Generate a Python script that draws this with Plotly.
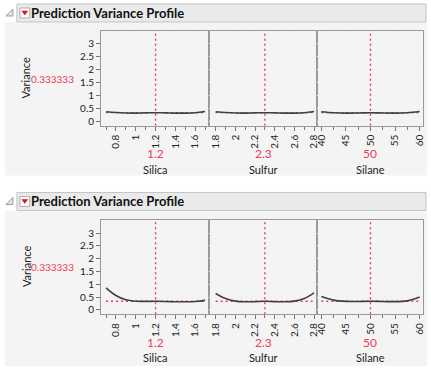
import plotly.graph_objects as go

W, H = 431, 369
FONT = "Lato"
RED = "#ec3a55"
CURVE = "#404040"

# ---------------- data ----------------
factors = ["Silica", "Sulfur", "Silane"]
current_values = [1.2, 2.3, 50]
current_labels = ["1.2", "2.3", "50"]
current_variance = 0.333333
variance_label = "0.333333"

silica_x = [0.7, 0.8, 0.9, 1.0, 1.1, 1.2, 1.3, 1.4, 1.5, 1.6, 1.7]
sulfur_x = [1.8, 1.9, 2.0, 2.1, 2.2, 2.3, 2.4, 2.5, 2.6, 2.7, 2.8]
silane_x = [40, 42.5, 45, 47.5, 50, 52.5, 55, 57.5, 60]

# top profile (design 1)
top_silica_var = [0.37, 0.34, 0.32, 0.315, 0.325, 0.333, 0.325, 0.315, 0.315, 0.33, 0.38]
top_sulfur_var = [0.37, 0.34, 0.32, 0.315, 0.325, 0.333, 0.325, 0.315, 0.315, 0.33, 0.38]
top_silane_var = [0.37, 0.33, 0.315, 0.32, 0.333, 0.32, 0.315, 0.33, 0.38]

# bottom profile (design 2)
bot_silica_var = [0.86, 0.56, 0.39, 0.335, 0.33, 0.333, 0.325, 0.315, 0.315, 0.325, 0.37]
bot_sulfur_var = [0.64, 0.44, 0.34, 0.315, 0.32, 0.333, 0.32, 0.315, 0.34, 0.44, 0.66]
bot_silane_var = [0.52, 0.38, 0.33, 0.325, 0.333, 0.325, 0.32, 0.35, 0.5]

x_ranges = [[0.65, 1.74], [1.733, 2.83], [39.13, 60.7]]
x_tick0 = [0.8, 1.8, 40]
x_dtick = [0.2, 0.2, 5]
x_minor = [0.1, 0.1, 2.5]
y_range = [-0.17, 3.5]
y_ticks = [0, 0.5, 1, 1.5, 2, 2.5, 3]

sections = [
    {"xs": [silica_x, sulfur_x, silane_x], "ys": [top_silica_var, top_sulfur_var, top_silane_var]},
    {"xs": [silica_x, sulfur_x, silane_x], "ys": [bot_silica_var, bot_sulfur_var, bot_silane_var]},
]

# ---------------- layout geometry (pixels) ----------------
panel_x = [(100, 209), (209, 318), (318, 425)]
sec_geo = [
    dict(head=(4, 22), bg=(22, 176), plot=(31, 126), val_y=154, title_y=169.5, var_y=79),
    dict(head=(193, 211), bg=(211, 367), plot=(221, 315), val_y=343, title_y=358.5, var_y=268),
]


def px(x):
    return x / W


def py(y):
    return 1 - y / H


fig = go.Figure()
shapes = []
annotations = []
layout_axes = {}
DOT = "2px,3px"

for s, (sec, geo) in enumerate(zip(sections, sec_geo)):
    # section background
    shapes.append(dict(type="rect", xref="paper", yref="paper", layer="below",
                       x0=px(3), x1=px(429), y0=py(geo["bg"][1]), y1=py(geo["bg"][0]),
                       fillcolor="#f4f4f4", line=dict(width=0)))
    # header bar
    h0, h1 = geo["head"]
    shapes.append(dict(type="rect", xref="paper", yref="paper", layer="below",
                       x0=px(15), x1=px(428), y0=py(h1), y1=py(h0),
                       fillcolor="#eaeaea", line=dict(color="#c4c4c4", width=1)))
    # disclosure triangle
    tc = (h0 + h1) / 2
    shapes.append(dict(type="path", xref="paper", yref="paper",
                       path=f"M {px(11)} {py(tc-4)} L {px(11)} {py(tc+3)} L {px(4)} {py(tc+3)} Z",
                       fillcolor="#e4e4e4", line=dict(color="#9a9a9a", width=1)))
    # red menu button
    shapes.append(dict(type="rect", xref="paper", yref="paper",
                       x0=px(18), x1=px(28), y0=py(tc+5), y1=py(tc-5),
                       fillcolor="#fbfbfb", line=dict(color="#b0b0b0", width=1)))
    shapes.append(dict(type="path", xref="paper", yref="paper",
                       path=f"M {px(20)} {py(tc-2)} L {px(26)} {py(tc-2)} L {px(23)} {py(tc+2)} Z",
                       fillcolor="#d9142b", line=dict(color="#d9142b", width=0.5)))
    annotations.append(dict(text="<b>Prediction Variance Profile</b>", xref="paper", yref="paper",
                            x=px(27), y=py(tc), xanchor="left", yanchor="middle", showarrow=False,
                            font=dict(family=FONT, size=13, color="#111111")))
    # y labels
    annotations.append(dict(text="Variance", xref="paper", yref="paper", x=px(24), y=py(geo["var_y"] - 1),
                            textangle=-90, showarrow=False, xanchor="center", yanchor="middle",
                            font=dict(family=FONT, size=11, color="#222222")))
    annotations.append(dict(text=variance_label, xref="paper", yref="paper", x=px(51), y=py(geo["var_y"]),
                            showarrow=False, xanchor="center", yanchor="middle",
                            font=dict(family=FONT, size=10, color=RED)))

    p0, p1 = geo["plot"]
    for c in range(3):
        n = s * 3 + c + 1
        xa = "xaxis" if n == 1 else f"xaxis{n}"
        ya = "yaxis" if n == 1 else f"yaxis{n}"
        xr = "x" if n == 1 else f"x{n}"
        yr = "y" if n == 1 else f"y{n}"
        x0p, x1p = panel_x[c]
        layout_axes[xa] = dict(
            domain=[px(x0p), px(x1p)], anchor=yr, range=x_ranges[c],
            tick0=x_tick0[c], dtick=x_dtick[c], ticks="outside", ticklen=4, tickcolor="#777777",
            tickangle=-90, tickfont=dict(family=FONT, size=10, color="#222222"),
            showline=True, linecolor="#9a9a9a", mirror=True, linewidth=1,
            showgrid=True, gridcolor="#f1f1f1", griddash="dot", zeroline=False,
            minor=dict(dtick=x_minor[c], ticks="outside", ticklen=3, tickcolor="#777777", showgrid=False),
            fixedrange=True,
        )
        layout_axes[ya] = dict(
            domain=[py(p1), py(p0)], anchor=xr, range=y_range,
            tickvals=y_ticks, ticks="outside" if c == 0 else "", ticklen=4, tickcolor="#777777",
            showticklabels=(c == 0), tickfont=dict(family=FONT, size=10, color="#222222"),
            showline=True, linecolor="#9a9a9a", mirror=True, linewidth=1,
            showgrid=True, gridcolor="#f1f1f1", griddash="dot", zeroline=False,
            fixedrange=True,
        )
        xs = sec["xs"][c]
        ys = sec["ys"][c]
        # horizontal current-variance line
        fig.add_trace(go.Scatter(x=[xs[0], xs[-1]], y=[current_variance, current_variance],
                                 mode="lines", line=dict(color=RED, width=1.4, dash=DOT),
                                 xaxis=xr, yaxis=yr, showlegend=False, hoverinfo="skip"))
        # vertical current-value line
        fig.add_trace(go.Scatter(x=[current_values[c], current_values[c]], y=y_range,
                                 mode="lines", line=dict(color=RED, width=1.4, dash=DOT),
                                 xaxis=xr, yaxis=yr, showlegend=False, hoverinfo="skip"))
        # variance curve
        fig.add_trace(go.Scatter(x=xs, y=ys, mode="lines",
                                 line=dict(color=CURVE, width=1.6, shape="spline", smoothing=1.0),
                                 xaxis=xr, yaxis=yr, showlegend=False))
        # current value + factor title
        cx = (x0p + x1p) / 2
        annotations.append(dict(text=current_labels[c], xref="paper", yref="paper",
                                x=px(cx), y=py(geo["val_y"]), showarrow=False,
                                xanchor="center", yanchor="middle",
                                font=dict(family=FONT, size=12, color=RED)))
        annotations.append(dict(text=factors[c], xref="paper", yref="paper",
                                x=px(cx), y=py(geo["title_y"]), showarrow=False,
                                xanchor="center", yanchor="middle",
                                font=dict(family=FONT, size=11, color="#222222")))

fig.update_layout(
    width=W, height=H, margin=dict(l=0, r=0, t=0, b=0),
    paper_bgcolor="white", plot_bgcolor="white",
    shapes=shapes, annotations=annotations, showlegend=False,
    font=dict(family=FONT),
    **layout_axes,
)

fig.write_html("out.html", config={"displayModeBar": False},
               post_script="document.body.style.margin='0';document.body.style.overflow='hidden';")
